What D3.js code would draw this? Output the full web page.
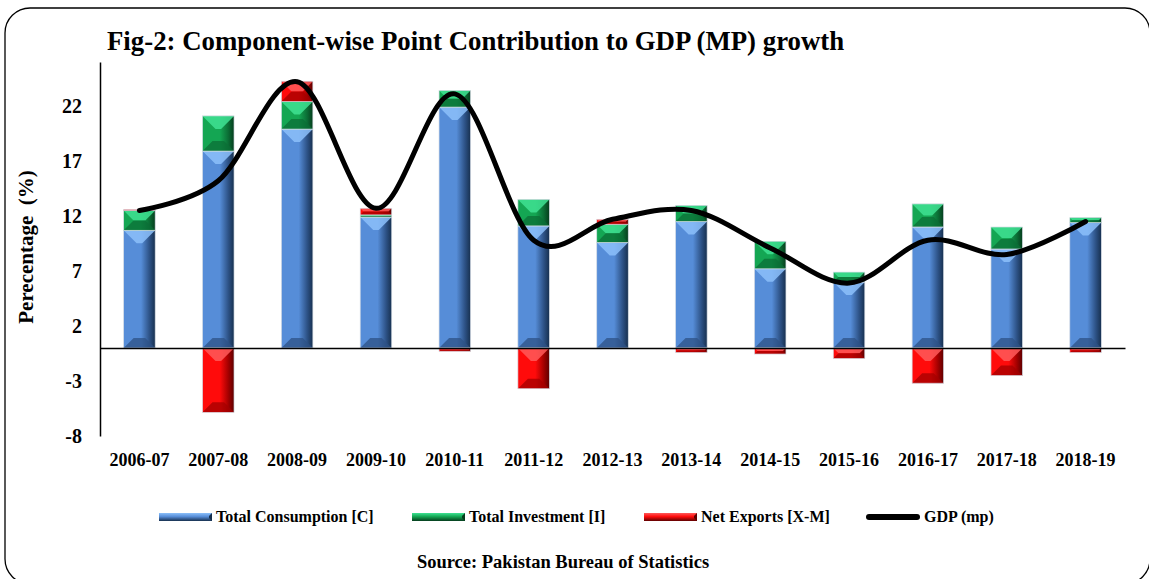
<!DOCTYPE html>
<html>
<head>
<meta charset="utf-8">
<script src="https://cdn.jsdelivr.net/npm/d3@7"></script>
<style>
  body { margin: 0; background: #fff; }
  text { font-family: "Liberation Serif", "Times New Roman", serif; font-weight: bold; fill: #000; }
</style>
</head>
<body>
<script>
// chart data
var years = ["2006-07", "2007-08", "2008-09", "2009-10", "2010-11", "2011-12", "2012-13",
             "2013-14", "2014-15", "2015-16", "2016-17", "2017-18", "2018-19"];
var consumption = [10.7, 17.9, 19.9, 11.9, 21.9, 11.1, 9.6, 11.5, 7.2, 6.0, 11.0, 9.0, 11.4];
var investment  = [1.8, 3.2, 2.5, 0.2, 1.5, 2.4, 1.65, 1.45, 2.5, 0.9, 2.1, 2.0, 0.45];
var netExports  = [0.1, -5.85, 1.85, 0.6, -0.3, -3.7, 0.45, -0.4, -0.55, -0.95, -3.2, -2.5, -0.4];
var gdp         = [12.5, 15.2, 24.2, 12.7, 23.1, 9.8, 11.7, 12.5, 9.1, 5.9, 9.8, 8.5, 11.5];
var yTicks = [-8, -3, 2, 7, 12, 17, 22];
var seriesNames = ["Total Consumption [C]", "Total Investment [I]", "Net Exports [X-M]", "GDP (mp)"];

var width = 1149, height = 579;

var svg = d3.select("body")
    .append("svg")
    .attr("width", width)
    .attr("height", height);

// colours for the bevelled bars
var colors = {
    C: {base: "#568dd8", light: "#8cc0fa", dark: "#2d5286", edge: "#17304f"},
    I: {base: "#14a653", light: "#3fe293", dark: "#0b6d35", edge: "#063d1d"},
    X: {base: "#ff0b0b", light: "#ff5a5a", dark: "#a30000", edge: "#5e0000"}
};

var defs = svg.append("defs");
Object.keys(colors).forEach(function(k) {
    var c = colors[k];
    var g = defs.append("linearGradient").attr("id", "body-" + k)
        .attr("x1", 0).attr("x2", 1).attr("y1", 0).attr("y2", 0);
    g.append("stop").attr("offset", "0%").attr("stop-color", c.base);
    g.append("stop").attr("offset", "55%").attr("stop-color", c.base);
    g.append("stop").attr("offset", "82%").attr("stop-color", c.dark);
    g.append("stop").attr("offset", "100%").attr("stop-color", c.edge);
    var v = defs.append("linearGradient").attr("id", "leg-" + k)
        .attr("x1", 0).attr("x2", 0).attr("y1", 0).attr("y2", 1);
    v.append("stop").attr("offset", "0%").attr("stop-color", c.light);
    v.append("stop").attr("offset", "45%").attr("stop-color", c.base);
    v.append("stop").attr("offset", "100%").attr("stop-color", c.edge);
});

// frame
svg.append("rect")
    .attr("x", 5).attr("y", 8)
    .attr("width", 1145).attr("height", 576)
    .attr("rx", 25).attr("ry", 25)
    .attr("fill", "none")
    .attr("stroke", "#000")
    .attr("stroke-width", 1.3);

// title
svg.append("text")
    .attr("x", 107).attr("y", 50)
    .style("font-size", "26.8px")
    .text("Fig-2: Component-wise Point Contribution to GDP (MP) growth");

// scales
var xScale = d3.scaleBand()
    .domain(years)
    .range([100, 1125])
    .paddingInner(0.6)
    .paddingOuter(0.3);

var yScale = d3.scaleLinear()
    .domain([-8, 26])
    .range([436, 62]);

// stacked table
var table = years.map(function(yr, i) {
    return {year: yr, C: consumption[i], I: investment[i], X: netExports[i]};
});
var stacked = d3.stack()
    .keys(["C", "I", "X"])
    .offset(d3.stackOffsetDiverging)(table);

// bars
var w = xScale.bandwidth();
stacked.forEach(function(layer) {
    var k = layer.key, c = colors[k];
    var g = svg.append("g").attr("class", "series-" + k);
    layer.forEach(function(d) {
        var x0 = xScale(d.data.year);
        var top = Math.min(yScale(d[0]), yScale(d[1]));
        var bot = Math.max(yScale(d[0]), yScale(d[1]));
        var h = bot - top;
        if (h < 0.3) return;
        g.append("rect")
            .attr("x", x0).attr("y", top)
            .attr("width", w).attr("height", h)
            .attr("fill", "url(#body-" + k + ")");
        var dt = Math.min(13, h / 2), db = Math.min(10, h / 2);
        g.append("polygon")
            .attr("points", [[x0, top], [x0 + w, top], [x0 + w - dt, top + dt], [x0 + dt, top + dt]].join(" "))
            .attr("fill", c.light).attr("opacity", 0.85);
        g.append("polygon")
            .attr("points", [[x0, bot], [x0 + w, bot], [x0 + w - db, bot - db], [x0 + db, bot - db]].join(" "))
            .attr("fill", c.dark).attr("opacity", 0.75);
        g.append("rect")
            .attr("x", x0).attr("y", top)
            .attr("width", w).attr("height", h)
            .attr("fill", "none")
            .attr("stroke", "#d6dde6")
            .attr("stroke-width", 0.7);
    });
});

// y axis
var yAxis = d3.axisLeft(yScale)
    .tickValues(yTicks)
    .tickFormat(function(d) { return String(d); })
    .tickSize(0)
    .tickSizeOuter(0)
    .tickPadding(18);
var gy = svg.append("g")
    .attr("transform", "translate(100,0)")
    .call(yAxis);
gy.select(".domain").attr("stroke", "#000").attr("stroke-width", 1.5);
gy.selectAll("text").style("font-size", "20px").style("font-family", "Liberation Serif").style("font-weight", "bold");

// zero line
var zeroAxis = d3.axisBottom(xScale).tickSize(0).tickSizeOuter(0).tickFormat("");
var gz = svg.append("g")
    .attr("transform", "translate(0," + yScale(0) + ")")
    .call(zeroAxis);
gz.select(".domain").attr("stroke", "#000").attr("stroke-width", 1.5);

// category labels
var xAxis = d3.axisBottom(xScale).tickSize(0).tickPadding(17);
var gx = svg.append("g")
    .attr("transform", "translate(0," + yScale(-8) + ")")
    .call(xAxis);
gx.select(".domain").remove();
gx.selectAll("text").style("font-size", "18px").style("font-family", "Liberation Serif").style("font-weight", "bold");

// y axis title
svg.append("text")
    .attr("transform", "translate(33,247) rotate(-90)")
    .attr("text-anchor", "middle")
    .style("font-size", "21px")
    .style("white-space", "pre")
    .text("Perecentage  (%)");

// GDP line
var line = d3.line()
    .x(function(d, i) { return xScale(years[i]) + w / 2; })
    .y(function(d) { return yScale(d); })
    .curve(d3.curveCardinal.tension(0));

svg.append("path")
    .datum(gdp)
    .attr("d", line)
    .attr("fill", "none")
    .attr("stroke", "#000")
    .attr("stroke-width", 5)
    .attr("stroke-linecap", "round")
    .attr("stroke-linejoin", "round");

// legend
var legendX = [159, 412, 644, 866];
var keys = ["C", "I", "X"];
var legend = svg.append("g").attr("class", "legend");
keys.forEach(function(k, i) {
    legend.append("rect")
        .attr("x", legendX[i]).attr("y", 513)
        .attr("width", 53).attr("height", 8)
        .attr("fill", "url(#leg-" + k + ")");
    legend.append("polygon")
        .attr("points", [[legendX[i] + 53, 513], [legendX[i] + 53, 521], [legendX[i] + 50, 518], [legendX[i] + 50, 516]].join(" "))
        .attr("fill", colors[k].edge);
    legend.append("text")
        .attr("x", legendX[i] + 57).attr("y", 522)
        .style("font-size", "16px")
        .text(seriesNames[i]);
});
legend.append("line")
    .attr("x1", legendX[3] + 3).attr("x2", legendX[3] + 51)
    .attr("y1", 517).attr("y2", 517)
    .attr("stroke", "#000").attr("stroke-width", 6)
    .attr("stroke-linecap", "round");
legend.append("text")
    .attr("x", legendX[3] + 58).attr("y", 522)
    .style("font-size", "16px")
    .text(seriesNames[3]);

// source note
svg.append("text")
    .attr("x", 563).attr("y", 568)
    .attr("text-anchor", "middle")
    .style("font-size", "18.5px")
    .text("Source: Pakistan Bureau of Statistics");
</script>
</body>
</html>
